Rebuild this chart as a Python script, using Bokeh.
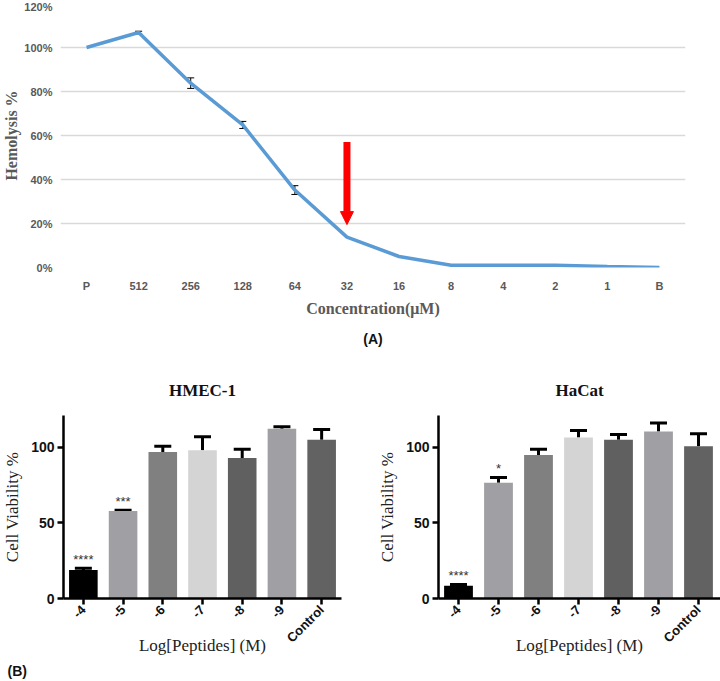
from math import pi
from bokeh.plotting import figure
from bokeh.models import (Range1d, FixedTicker, PrintfTickFormatter, ColumnDataSource,
                          Whisker, TeeHead, Arrow, NormalHead, Title)
from bokeh.layouts import column, row
from bokeh.embed import file_html
from bokeh.resources import INLINE
from bokeh.core.properties import value

# ---------------- data ----------------
conc = ["P", "512", "256", "128", "64", "32", "16", "8", "4", "2", "1", "B"]
hemolysis = [100, 106.8, 83.8, 64.8, 35.2, 13.8, 5.0, 1.0, 1.0, 1.0, 0.4, 0.0]
hemolysis_err = [0, 0.6, 2.4, 1.6, 2.0, 0, 0, 0, 0, 0, 0, 0]
hemo_ticks = [0, 20, 40, 60, 80, 100, 120]
arrow_cat = "32"
arrow_from = 57
arrow_to = 19.5

doses = ["-4", "-5", "-6", "-7", "-8", "-9", "Control"]
bar_colors = ["#000000", "#a0a0a4", "#808080", "#d4d4d4", "#606060", "#a0a0a4", "#626262"]
hmec = [18.8, 57.8, 96.8, 98.0, 92.9, 112.3, 105.0]
hmec_err = [1.2, 0.6, 3.8, 9.0, 5.8, 1.3, 6.7]
hmec_stars = ["****", "***", "", "", "", "", ""]
hacat = [8.5, 76.6, 94.8, 106.5, 105.0, 110.4, 100.6]
hacat_err = [0.7, 3.4, 3.9, 4.5, 3.4, 5.6, 8.4]
hacat_stars = ["****", "*", "", "", "", "", ""]
viab_ticks = [0, 50, 100]

SERIF = "Liberation Serif"
SANS = "Liberation Sans"

# ---------------- panel A ----------------
xs = list(range(len(conc)))
pa = figure(width=720, height=355, x_range=Range1d(-0.5, len(conc) - 0.5),
            y_range=Range1d(0, 120), output_backend="svg", toolbar_location=None,
            min_border_left=58, min_border_right=35, min_border_top=3, min_border_bottom=87)
pa.outline_line_color = None
pa.xgrid.visible = False
pa.ygrid.grid_line_color = "#d9d9d9"
pa.ygrid.grid_line_width = 1.5
pa.yaxis.ticker = FixedTicker(ticks=hemo_ticks)
pa.yaxis.formatter = PrintfTickFormatter(format="%d%%")
pa.xaxis.ticker = FixedTicker(ticks=xs)
pa.xaxis.major_label_overrides = {i: c for i, c in enumerate(conc)}
for ax in (pa.xaxis, pa.yaxis):
    ax.axis_line_color = None
    ax.major_tick_line_color = None
    ax.major_tick_in = 0
    ax.major_tick_out = 0
    ax.minor_tick_line_color = None
    ax.minor_tick_in = 0
    ax.minor_tick_out = 0
    ax.major_label_text_font = SANS
    ax.major_label_text_font_style = "bold"
    ax.major_label_text_font_size = "11px"
    ax.major_label_text_color = "#595959"
    ax.axis_label_text_font = SERIF
    ax.axis_label_text_font_style = "bold"
    ax.axis_label_text_font_size = "16px"
    ax.axis_label_text_color = "#595959"
pa.yaxis.axis_label = "Hemolysis %"
pa.yaxis.major_label_standoff = 8
pa.yaxis.axis_label_standoff = 1
pa.xaxis.axis_label = "Concentration(\u03bcM)"
pa.xaxis.major_label_standoff = 12
pa.xaxis.axis_label_standoff = 5

pa.line(xs, hemolysis, line_color="#5b9bd5", line_width=3.5)
ex = [x for x, e in zip(xs, hemolysis_err) if e > 0]
ev = [v for v, e in zip(hemolysis, hemolysis_err) if e > 0]
ee = [e for e in hemolysis_err if e > 0]
esrc = ColumnDataSource(dict(x=ex, lo=[v - e for v, e in zip(ev, ee)], hi=[v + e for v, e in zip(ev, ee)]))
pa.add_layout(Whisker(base="x", lower="lo", upper="hi", source=esrc, dimension="height",
                      line_color="black", line_width=1,
                      upper_head=TeeHead(size=7, line_color="black", line_width=1),
                      lower_head=TeeHead(size=7, line_color="black", line_width=1)))
ai = conc.index(arrow_cat)
pa.add_layout(Arrow(x_start=ai, y_start=arrow_from, x_end=ai, y_end=arrow_to,
                    line_color="#ff0000", line_width=7,
                    end=NormalHead(size=13, fill_color="#ff0000", line_color="#ff0000")))
pa.add_layout(Title(text="(A)", align="center", text_font=SANS, text_font_style="bold",
                    text_font_size="14px", text_color="#111111", standoff=18), "below")


# ---------------- panel B ----------------
def bar_panel(title, vals, errs, stars, width, b_left, b_right, xmax, tag=None):
    n = len(doses)
    bx = list(range(n))
    p = figure(width=width, height=326, x_range=Range1d(-0.5, xmax), y_range=Range1d(0, 121),
               output_backend="svg", toolbar_location=None,
               min_border_left=b_left, min_border_right=b_right, min_border_top=60,
               min_border_bottom=76)
    p.title = Title(text=title, align="center", text_font=SERIF, text_font_style="bold",
                    text_font_size="17px", text_color="#111111", standoff=32,
                    vertical_align="bottom")
    p.outline_line_color = None
    p.grid.visible = False
    src = ColumnDataSource(dict(x=bx, top=vals, color=bar_colors,
                                hi=[v + e for v, e in zip(vals, errs)],
                                sy=[v + e + 6 for v, e in zip(vals, errs)], star=stars))
    p.vbar(x="x", top="top", bottom=0, width=0.72, fill_color="color", line_color=None, source=src)
    p.add_layout(Whisker(base="x", lower="top", upper="hi", source=src, dimension="height",
                         line_color="black", line_width=3,
                         upper_head=TeeHead(size=17, line_color="black", line_width=3),
                         lower_head=None))
    p.text(x="x", y="sy", text="star", source=src, text_align="center", text_baseline="middle",
           text_font=value(SANS), text_font_size="13px", text_color="#333333")
    p.yaxis.ticker = FixedTicker(ticks=viab_ticks)
    p.xaxis.ticker = FixedTicker(ticks=bx)
    p.xaxis.major_label_overrides = {i: d for i, d in enumerate(doses)}
    p.xaxis.major_label_orientation = pi / 4
    for ax in (p.xaxis, p.yaxis):
        ax.axis_line_color = "black"
        ax.axis_line_width = 2.5
        ax.major_tick_line_color = "black"
        ax.major_tick_line_width = 2.5
        ax.major_tick_in = 0
        ax.major_tick_out = 6
        ax.minor_tick_line_color = None
        ax.minor_tick_in = 0
        ax.minor_tick_out = 0
        ax.major_label_text_font = SANS
        ax.major_label_text_font_style = "bold"
        ax.major_label_text_color = "#111111"
        ax.axis_label_text_font = SERIF
        ax.axis_label_text_font_style = "normal"
        ax.axis_label_text_font_size = "17px"
        ax.axis_label_text_color = "#222222"
    p.yaxis.major_label_text_font_size = "14px"
    p.xaxis.major_label_text_font_size = "13px"
    p.yaxis.major_label_standoff = 3
    p.xaxis.major_label_standoff = 3
    p.yaxis.axis_label = "Cell Viability %"
    p.yaxis.axis_label_standoff = 6
    p.xaxis.axis_label = "Log[Peptides] (M)"
    p.xaxis.axis_label_standoff = -18
    if tag:
        p.add_layout(Title(text=tag, align="left", offset=-56, text_font=SANS,
                           text_font_style="bold", text_font_size="14px",
                           text_color="#111111", standoff=6), "below")
    return p


pb1 = bar_panel("HMEC-1", hmec, hmec_err, hmec_stars, 360, 61, 19, 6.5, tag="(B)")
pb2 = bar_panel("HaCat", hacat, hacat_err, hacat_stars, 360, 78, 0, 6.55)

layout = column(pa, row(pb1, pb2, spacing=0), spacing=0)
open("out.html", "w").write(file_html(layout, INLINE))
